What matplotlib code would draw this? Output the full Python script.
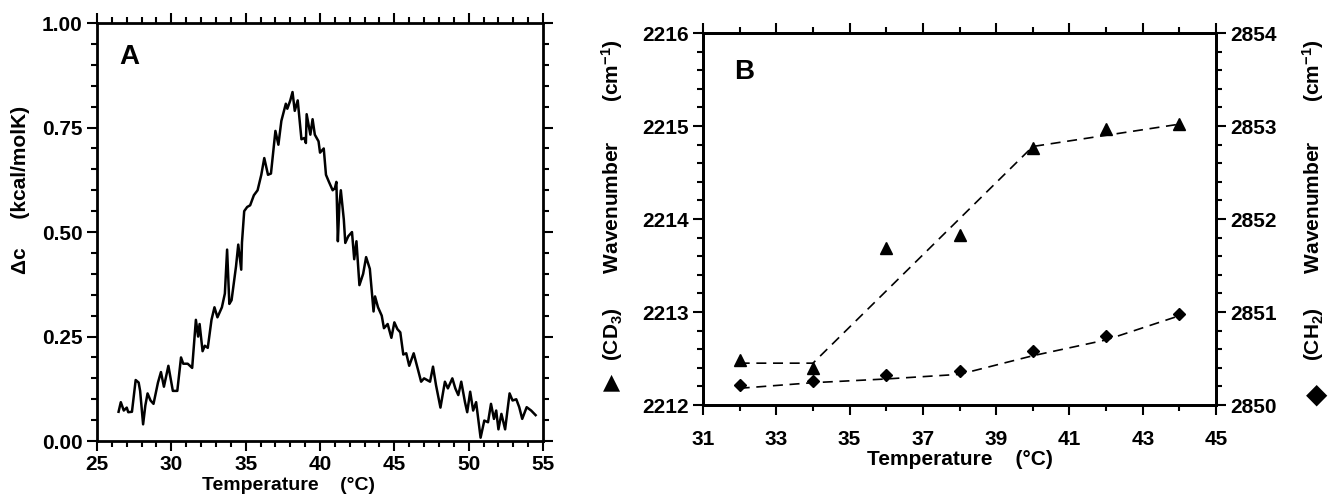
import matplotlib
matplotlib.use("Agg")
import matplotlib.pyplot as plt
from matplotlib.ticker import MultipleLocator, FixedLocator

# panel A: DSC trace
temp_a = [26.45, 26.6, 26.8, 27.0, 27.1, 27.35, 27.6, 27.8, 27.9, 28.1,
          28.25, 28.4, 28.6, 28.8, 29.1, 29.3, 29.5, 29.8, 30.1, 30.4,
          30.65, 30.8, 31.1, 31.4, 31.65, 31.8, 31.9, 32.1, 32.25, 32.45,
          32.7, 32.9, 33.1, 33.4, 33.6, 33.75, 33.9, 34.05, 34.35, 34.5,
          34.7, 34.75, 34.9, 35.1, 35.3, 35.55, 35.8, 36.05, 36.25, 36.5,
          36.7, 37.0, 37.2, 37.4, 37.7, 37.8, 38.0, 38.15, 38.3, 38.5,
          38.75, 38.95, 39.05, 39.1, 39.35, 39.5, 39.65, 39.9, 40.0, 40.25,
          40.4, 40.6, 40.85, 41.0, 41.1, 41.2, 41.3, 41.4, 41.6, 41.7,
          41.9, 42.15, 42.3, 42.45, 42.65, 42.9, 43.1, 43.35, 43.6, 43.7,
          43.9, 44.15, 44.3, 44.55, 44.8, 45.0, 45.2, 45.4, 45.6, 45.8,
          46.0, 46.3, 46.5, 46.8, 47.0, 47.4, 47.6, 47.8, 48.1, 48.4,
          48.6, 48.9, 49.1, 49.3, 49.5, 49.75, 49.9, 50.1, 50.3, 50.5,
          50.8, 51.05, 51.3, 51.5, 51.7, 51.85, 52.0, 52.2, 52.45, 52.75,
          52.95, 53.2, 53.4, 53.6, 53.9, 54.2, 54.5]
dc = [0.07, 0.093, 0.073, 0.08, 0.069, 0.07, 0.146, 0.14, 0.12, 0.04,
      0.085, 0.114, 0.097, 0.089, 0.14, 0.165, 0.13, 0.18, 0.12, 0.12,
      0.20, 0.185, 0.185, 0.175, 0.29, 0.25, 0.28, 0.215, 0.228, 0.223,
      0.29, 0.32, 0.296, 0.32, 0.353, 0.458, 0.328, 0.337, 0.418, 0.47,
      0.41, 0.475, 0.55, 0.56, 0.564, 0.588, 0.60, 0.637, 0.677, 0.637,
      0.64, 0.742, 0.709, 0.766, 0.807, 0.795, 0.815, 0.835, 0.79, 0.815,
      0.722, 0.725, 0.713, 0.782, 0.733, 0.77, 0.733, 0.717, 0.69, 0.70,
      0.637, 0.62, 0.60, 0.605, 0.62, 0.478, 0.564, 0.60, 0.53, 0.474,
      0.49, 0.50, 0.435, 0.478, 0.373, 0.40, 0.44, 0.412, 0.31, 0.346,
      0.32, 0.30, 0.27, 0.28, 0.247, 0.284, 0.268, 0.26, 0.207, 0.21,
      0.18, 0.21, 0.183, 0.142, 0.15, 0.142, 0.178, 0.134, 0.08, 0.142,
      0.126, 0.15, 0.126, 0.11, 0.142, 0.093, 0.069, 0.118, 0.073, 0.093,
      0.008, 0.049, 0.045, 0.089, 0.053, 0.073, 0.028, 0.065, 0.028, 0.114,
      0.097, 0.10, 0.081, 0.053, 0.081, 0.073, 0.062]

# panel B: IR band positions
temp_b = [32, 34, 36, 38, 40, 42, 44]
cd3 = [2212.48, 2212.40, 2213.69, 2213.83, 2214.76, 2214.97, 2215.02]
ch2 = [2850.21, 2850.26, 2850.32, 2850.37, 2850.58, 2850.74, 2850.98]
cd3_fit_x = [32, 34, 40, 44]
cd3_fit = [2212.45, 2212.45, 2214.78, 2215.02]
ch2_fit = [2850.18, 2850.24, 2850.28, 2850.33, 2850.53, 2850.70, 2850.96]
b_xticks = [31, 33, 35, 37, 39, 41, 43, 45]

plt.rcParams['font.family'] = ['Liberation Sans', 'DejaVu Sans']
plt.rcParams['font.weight'] = 'bold'
plt.rcParams['axes.labelweight'] = 'bold'
plt.rcParams['mathtext.default'] = 'regular'

lab_size = 15

fig = plt.figure(figsize=(13.29, 4.95), dpi=100)


def style_ticks(ax):
    ax.tick_params(which='both', direction='out', width=1.5, labelsize=15,
                   top=True, right=True)
    ax.tick_params(which='major', length=7)
    ax.tick_params(which='minor', length=4)
    for s in ax.spines.values():
        s.set_linewidth(2)


# --- A ---
axA = fig.add_axes([0.073, 0.109, 0.3356, 0.8444])
axA.plot(temp_a, dc, color='black', lw=1.8)
axA.set_xlim(25, 55)
axA.set_ylim(0, 1)
axA.xaxis.set_major_locator(MultipleLocator(5))
axA.xaxis.set_minor_locator(MultipleLocator(1))
axA.yaxis.set_major_locator(MultipleLocator(0.25))
axA.yaxis.set_minor_locator(MultipleLocator(0.05))
axA.yaxis.set_major_formatter(plt.FormatStrFormatter('%.2f'))
style_ticks(axA)
axA.tick_params(labelright=False, labeltop=False)
axA.tick_params(axis='x', pad=3)
axA.set_xlabel('Temperature    (°C)', fontsize=14)
axA.xaxis.set_label_coords(0.43, -0.087)
axA.set_ylabel('Δc     (kcal/molK)', fontsize=lab_size)
axA.yaxis.set_label_coords(-0.15, 0.6)
axA.text(0.05, 0.95, 'A', transform=axA.transAxes, fontsize=20,
         fontweight='bold', va='top', ha='left')

# --- B ---
axB = fig.add_axes([0.529, 0.1818, 0.386, 0.7515])
axB.plot(cd3_fit_x, cd3_fit, color='black', lw=1.2, ls=(0, (6, 4)))
axB.plot(temp_b, cd3, ls='none', marker='^', color='black', ms=8)
axB.set_xlim(31, 45)
axB.set_ylim(2212, 2216)
axB.xaxis.set_major_locator(FixedLocator(b_xticks))
axB.xaxis.set_minor_locator(MultipleLocator(1))
axB.yaxis.set_major_locator(MultipleLocator(1))
axB.yaxis.set_minor_locator(MultipleLocator(0.2))
style_ticks(axB)
axB.tick_params(labelright=False, labeltop=False, right=False)
axB.tick_params(axis='x', pad=11)
axB.set_xlabel('Temperature    (°C)', fontsize=lab_size, labelpad=1)
axB.text(0.06, 0.93, 'B', transform=axB.transAxes, fontsize=20,
         fontweight='bold', va='top', ha='left')

# y labels for B, symbol drawn separately so the glyph is found
axB.text(-0.178, 0.55, '(CD$_3$)      Wavenumber       (cm$^{-1}$)',
         transform=axB.transAxes, rotation=90, ha='center', va='center',
         fontsize=lab_size, fontweight='bold')
axB.text(-0.178, 0.06, '▲', transform=axB.transAxes,
         ha='center', va='center', fontsize=16, family='DejaVu Sans')

axB2 = axB.twinx()
axB2.plot(temp_b, ch2_fit, color='black', lw=1.2, ls=(0, (6, 4)))
axB2.plot(temp_b, ch2, ls='none', marker='D', color='black', ms=6)
axB2.set_ylim(2850, 2854)
axB2.yaxis.set_major_locator(MultipleLocator(1))
axB2.yaxis.set_minor_locator(MultipleLocator(0.2))
axB2.tick_params(which='both', direction='out', width=1.5, labelsize=15)
axB2.tick_params(which='major', length=7)
axB2.tick_params(which='minor', length=4)
for s in axB2.spines.values():
    s.set_linewidth(2)
axB2.text(1.19, 0.55, '(CH$_2$)      Wavenumber       (cm$^{-1}$)',
          transform=axB2.transAxes, rotation=90, ha='center', va='center',
          fontsize=lab_size, fontweight='bold')
axB2.text(1.197, 0.028, '◆', transform=axB2.transAxes,
          ha='center', va='center', fontsize=20, family='DejaVu Sans')

fig.savefig('out.png', dpi=100)
